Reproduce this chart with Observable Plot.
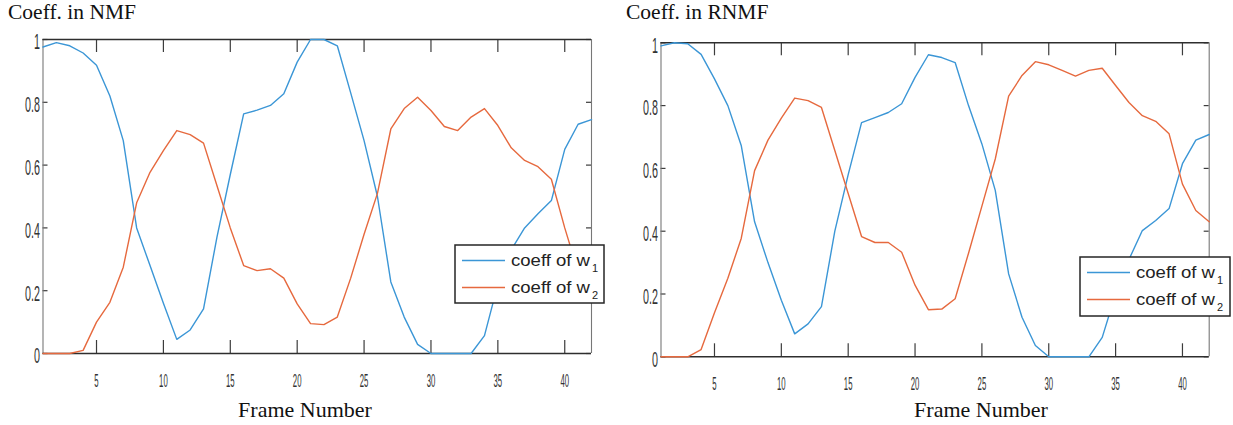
<!DOCTYPE html>
<html>
<head>
<meta charset="utf-8">
<script src="https://cdn.jsdelivr.net/npm/d3@7"></script>
<script src="https://cdn.jsdelivr.net/npm/@observablehq/plot@0.6"></script>
<style>
  html, body { margin: 0; padding: 0; background: #fff; }
  #page { position: relative; width: 1233px; height: 425px; overflow: hidden; background: #fff; }
  .chart { position: absolute; top: 0; }
  .title, .xlabel { position: absolute; font-family: "Liberation Serif", "Times New Roman", serif; color: #111; white-space: nowrap; }
  .title { font-size: 21.5px; line-height: 21px; }
  .xlabel { font-size: 22px; line-height: 22px; text-align: center; width: 200px; }
  .legend { position: absolute; }
</style>
</head>
<body>
<div id="page"></div>
<script>
// ---------- data ----------
const frames = [1,2,3,4,5,6,7,8,9,10,11,12,13,14,15,16,17,18,19,20,21,22,23,24,25,26,27,28,29,30,31,32,33,34,35,36,37,38,39,40,41,42];

const nmfW1 = [0.976,0.99,0.98,0.957,0.918,0.82,0.678,0.40,0.28,0.16,0.045,0.075,0.142,0.37,0.57,0.763,0.775,0.79,0.827,0.928,1.0,1.0,0.98,0.83,0.678,0.50,0.228,0.116,0.029,0.0,0.0,0.0,0.0,0.057,0.22,0.33,0.40,0.445,0.487,0.65,0.73,0.745];
const nmfW2 = [0.0,0.0,0.0,0.01,0.10,0.163,0.275,0.48,0.577,0.646,0.71,0.697,0.67,0.535,0.40,0.28,0.264,0.27,0.24,0.158,0.095,0.092,0.116,0.24,0.38,0.51,0.715,0.78,0.816,0.774,0.723,0.71,0.753,0.78,0.726,0.655,0.615,0.595,0.555,0.40,0.26,0.20];

const rnmfW1 = [0.99,1.0,0.997,0.963,0.885,0.80,0.673,0.43,0.30,0.18,0.073,0.105,0.16,0.40,0.58,0.746,0.762,0.778,0.806,0.89,0.962,0.953,0.937,0.80,0.678,0.53,0.264,0.126,0.036,0.0,0.0,0.0,0.0,0.062,0.20,0.31,0.402,0.434,0.472,0.615,0.69,0.708];
const rnmfW2 = [0.0,0.0,0.0,0.023,0.14,0.25,0.377,0.593,0.69,0.76,0.824,0.816,0.794,0.657,0.52,0.383,0.364,0.364,0.333,0.228,0.15,0.152,0.185,0.33,0.48,0.63,0.83,0.896,0.94,0.93,0.912,0.894,0.912,0.919,0.864,0.81,0.768,0.75,0.71,0.55,0.466,0.43];

const xTicks = [5,10,15,20,25,30,35,40];
const yTicks = [0,0.2,0.4,0.6,0.8,1];
const seriesNames = ["coeff of w", "coeff of w"];
const seriesSubs = ["1", "2"];
const titles = ["Coeff. in NMF", "Coeff. in RNMF"];
const xLabel = "Frame Number";

const colors = ["#3b96d6", "#e6693e"];

// ---------- layout ----------
const panels = [
  {w1: nmfW1, w2: nmfW2, left: 0, width: 610, ml: 42.5, mr: 19, mt: 39, mb: 47,
   title: titles[0], titleX: 8, labelCx: 305,
   legend: {x: 455, y: 245, w: 149, h: 58}},
  {w1: rnmfW1, w2: rnmfW2, left: 615, width: 618, ml: 45.5, mr: 24.3, mt: 42.3, mb: 43.7,
   title: titles[1], titleX: 626, labelCx: 981,
   legend: {x: 1080, y: 257, w: 150, h: 59}}
];

const page = document.getElementById("page");
const H = 400;

function squish(svg, selector, factor) {
  svg.querySelectorAll(selector).forEach(t => {
    const len = t.getComputedTextLength();
    if (len > 0) {
      t.setAttribute("textLength", (len * factor).toFixed(2));
      t.setAttribute("lengthAdjust", "spacingAndGlyphs");
    }
  });
}

panels.forEach(p => {
  const data = frames.map((f, i) => ({f, w1: p.w1[i], w2: p.w2[i]}));
  const innerH = H - p.mt - p.mb;
  const innerW = p.width - p.ml - p.mr;
  const tickCol = "#3c3c3c";
  const svg = Plot.plot({
    width: p.width, height: H,
    marginLeft: p.ml, marginRight: p.mr, marginTop: p.mt, marginBottom: p.mb,
    style: {background: "transparent", overflow: "visible"},
    x: {domain: [frames[0], frames[frames.length - 1]]},
    y: {domain: [yTicks[0], yTicks[yTicks.length - 1]]},
    marks: [
      Plot.axisX(xTicks, {tickSize: 0, tickPadding: 20, fontSize: 18.5, fill: "#333",
        fontFamily: "'Liberation Sans', Arial, sans-serif", label: null}),
      Plot.axisY(yTicks, {tickSize: 0, tickPadding: 3, fontSize: 21.5, dy: 3, fill: "#333",
        fontFamily: "'Liberation Sans', Arial, sans-serif", label: null, tickFormat: d => String(d)}),
      // inward ticks
      Plot.tickX(xTicks, {x: d => d, insetTop: innerH - 13, stroke: tickCol, strokeWidth: 1.2}),
      Plot.tickX(xTicks, {x: d => d, insetBottom: innerH - 13, stroke: tickCol, strokeWidth: 1.2}),
      Plot.tickY(yTicks, {y: d => d, insetRight: innerW - 5, stroke: tickCol, strokeWidth: 1.2}),
      Plot.tickY(yTicks, {y: d => d, insetLeft: innerW - 5, stroke: tickCol, strokeWidth: 1.2}),
      // box
      Plot.ruleX([frames[0], frames[frames.length - 1]], {stroke: "#777", strokeWidth: 1.1}),
      Plot.ruleY([yTicks[0], yTicks[yTicks.length - 1]], {stroke: "#2e2e2e", strokeWidth: 1.6}),
      // series
      Plot.line(data, {x: "f", y: "w1", stroke: colors[0], strokeWidth: 1.4}),
      Plot.line(data, {x: "f", y: "w2", stroke: colors[1], strokeWidth: 1.4})
    ]
  });
  svg.classList.add("chart");
  svg.style.left = p.left + "px";
  page.appendChild(svg);
  squish(svg, 'g[aria-label="x-axis tick label"] text', 0.42);
  squish(svg, 'g[aria-label="y-axis tick label"] text', 0.5);

  // title
  const t = document.createElement("div");
  t.className = "title";
  t.textContent = p.title;
  t.style.left = p.titleX + "px";
  t.style.top = "2px";
  page.appendChild(t);

  // x label
  const xl = document.createElement("div");
  xl.className = "xlabel";
  xl.textContent = xLabel;
  xl.style.left = (p.labelCx - 100) + "px";
  xl.style.top = "399px";
  page.appendChild(xl);

  // legend
  const L = p.legend;
  const ns = "http://www.w3.org/2000/svg";
  const lg = document.createElementNS(ns, "svg");
  lg.setAttribute("width", L.w + 2);
  lg.setAttribute("height", L.h + 2);
  lg.setAttribute("class", "legend");
  lg.style.left = (L.x - 1) + "px";
  lg.style.top = (L.y - 1) + "px";
  const rect = document.createElementNS(ns, "rect");
  rect.setAttribute("x", 1); rect.setAttribute("y", 1);
  rect.setAttribute("width", L.w); rect.setAttribute("height", L.h);
  rect.setAttribute("fill", "#fff"); rect.setAttribute("stroke", "#262626"); rect.setAttribute("stroke-width", 1.5);
  lg.appendChild(rect);
  const rowY = [16.5, 43.5];
  seriesNames.forEach((name, i) => {
    const ln = document.createElementNS(ns, "line");
    ln.setAttribute("x1", 8); ln.setAttribute("x2", 51);
    ln.setAttribute("y1", rowY[i]); ln.setAttribute("y2", rowY[i]);
    ln.setAttribute("stroke", colors[i]); ln.setAttribute("stroke-width", 1.5);
    lg.appendChild(ln);
    const tx = document.createElementNS(ns, "text");
    tx.setAttribute("x", 57); tx.setAttribute("y", rowY[i] + 5);
    tx.setAttribute("font-family", "'Liberation Sans', Arial, sans-serif");
    tx.setAttribute("font-size", 16.5);
    tx.setAttribute("fill", "#222");
    tx.setAttribute("textLength", 79);
    tx.setAttribute("lengthAdjust", "spacingAndGlyphs");
    tx.textContent = name;
    lg.appendChild(tx);
    const sb = document.createElementNS(ns, "text");
    sb.setAttribute("x", 138); sb.setAttribute("y", rowY[i] + 11);
    sb.setAttribute("font-family", "'Liberation Sans', Arial, sans-serif");
    sb.setAttribute("font-size", 11);
    sb.setAttribute("fill", "#222");
    sb.textContent = seriesSubs[i];
    lg.appendChild(sb);
  });
  page.appendChild(lg);
});
</script>
</body>
</html>
